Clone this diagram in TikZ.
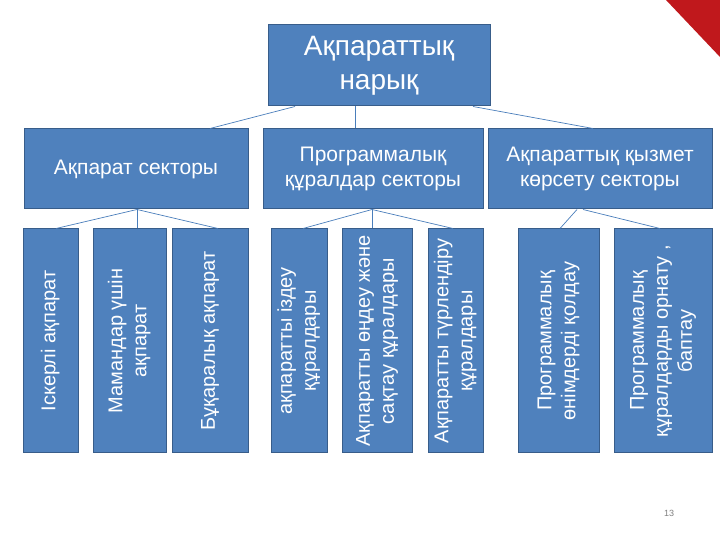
\documentclass[tikz,border=0pt]{standalone}
\usepackage{fontspec}
\setmainfont{Liberation Sans}
\usepackage{graphicx}
\definecolor{boxfill}{RGB}{79,129,189}
\definecolor{boxline}{RGB}{56,93,138}
\definecolor{conn}{RGB}{74,126,187}
\definecolor{corner}{RGB}{192,24,28}
\tikzset{
  box/.style={draw=boxline, line width=1pt, fill=boxfill, text=white, inner sep=0pt, align=center},
  topbox/.style={box, minimum width=222pt, minimum height=81pt, font=\fontsize{28}{34}\selectfont},
  secbox/.style={box, minimum height=80pt, font=\fontsize{21}{25}\selectfont},
  leafbox/.style={box, minimum height=224pt, font=\fontsize{20}{24}\selectfont},
  link/.style={draw=conn, line width=0.7pt}
}
\newcommand{\vtext}[1]{\rotatebox{90}{\begin{tabular}{@{}c@{}}#1\end{tabular}}}
\begin{document}
\begin{tikzpicture}[x=1pt,y=1pt]
\useasboundingbox (0,0) rectangle (720,540);
\fill[white] (0,0) rectangle (720,540);
\fill[corner] (666,540) -- (720,540) -- (720,483) -- cycle;

\node[topbox] (top) at (379,474.5) {Ақпараттық\\нарық};

\node[secbox, minimum width=224pt] (sa) at (136,371) {Ақпарат секторы};
\node[secbox, minimum width=220pt] (sb) at (373,371) {Программалық\\құралдар секторы};
\node[secbox, minimum width=224pt] (sc) at (600,371) {Ақпараттық қызмет\\көрсету секторы};

\node[leafbox, minimum width=55pt] (l1) at (50.5,199) {\vtext{Іскерлі ақпарат}};
\node[leafbox, minimum width=73pt] (l2) at (129.5,199) {\vtext{Мамандар үшін\\ақпарат}};
\node[leafbox, minimum width=76pt] (l3) at (210,199) {\vtext{Бұқаралық ақпарат}};
\node[leafbox, minimum width=56pt] (l4) at (299,199) {\vtext{ақпаратты іздеу\\құралдары}};
\node[leafbox, minimum width=70pt] (l5) at (377,199) {\vtext{Ақпаратты өңдеу және\\сақтау құралдары}};
\node[leafbox, minimum width=55pt] (l6) at (455.5,199) {\vtext{Ақпаратты түрлендіру\\құралдары}};
\node[leafbox, minimum width=81pt] (l7) at (558.5,199) {\vtext{Программалық\\өнімдерді қолдау}};
\node[leafbox, minimum width=98pt] (l8) at (663,199) {\vtext{Программалық\\құралдарды орнату ,\\баптау}};

\draw[link] ([xshift=-84pt]top.south) -- ([xshift=74pt]sa.north);
\draw[link] ([xshift=-24pt]top.south) -- ([xshift=-18pt]sb.north);
\draw[link] ([xshift=94pt]top.south) -- ([xshift=-7pt]sc.north);

\draw[link] ([xshift=1pt]sa.south) -- ([xshift=5.5pt]l1.north);
\draw[link] ([xshift=1pt]sa.south) -- ([xshift=7.5pt]l2.north);
\draw[link] ([xshift=1pt]sa.south) -- ([xshift=8pt]l3.north);

\draw[link] ([xshift=-1pt]sb.south) -- ([xshift=4pt]l4.north);
\draw[link] ([xshift=-1pt]sb.south) -- ([xshift=-5pt]l5.north);
\draw[link] ([xshift=-1pt]sb.south) -- ([xshift=-2.5pt]l6.north);

\draw[link] ([xshift=-23pt]sc.south) -- ([xshift=1.5pt]l7.north);
\draw[link] ([xshift=-17pt]sc.south) -- ([xshift=-3pt]l8.north);

\node[text=gray, font=\fontsize{9}{11}\selectfont] (pg) at (669,27) {13};
\end{tikzpicture}
\end{document}
